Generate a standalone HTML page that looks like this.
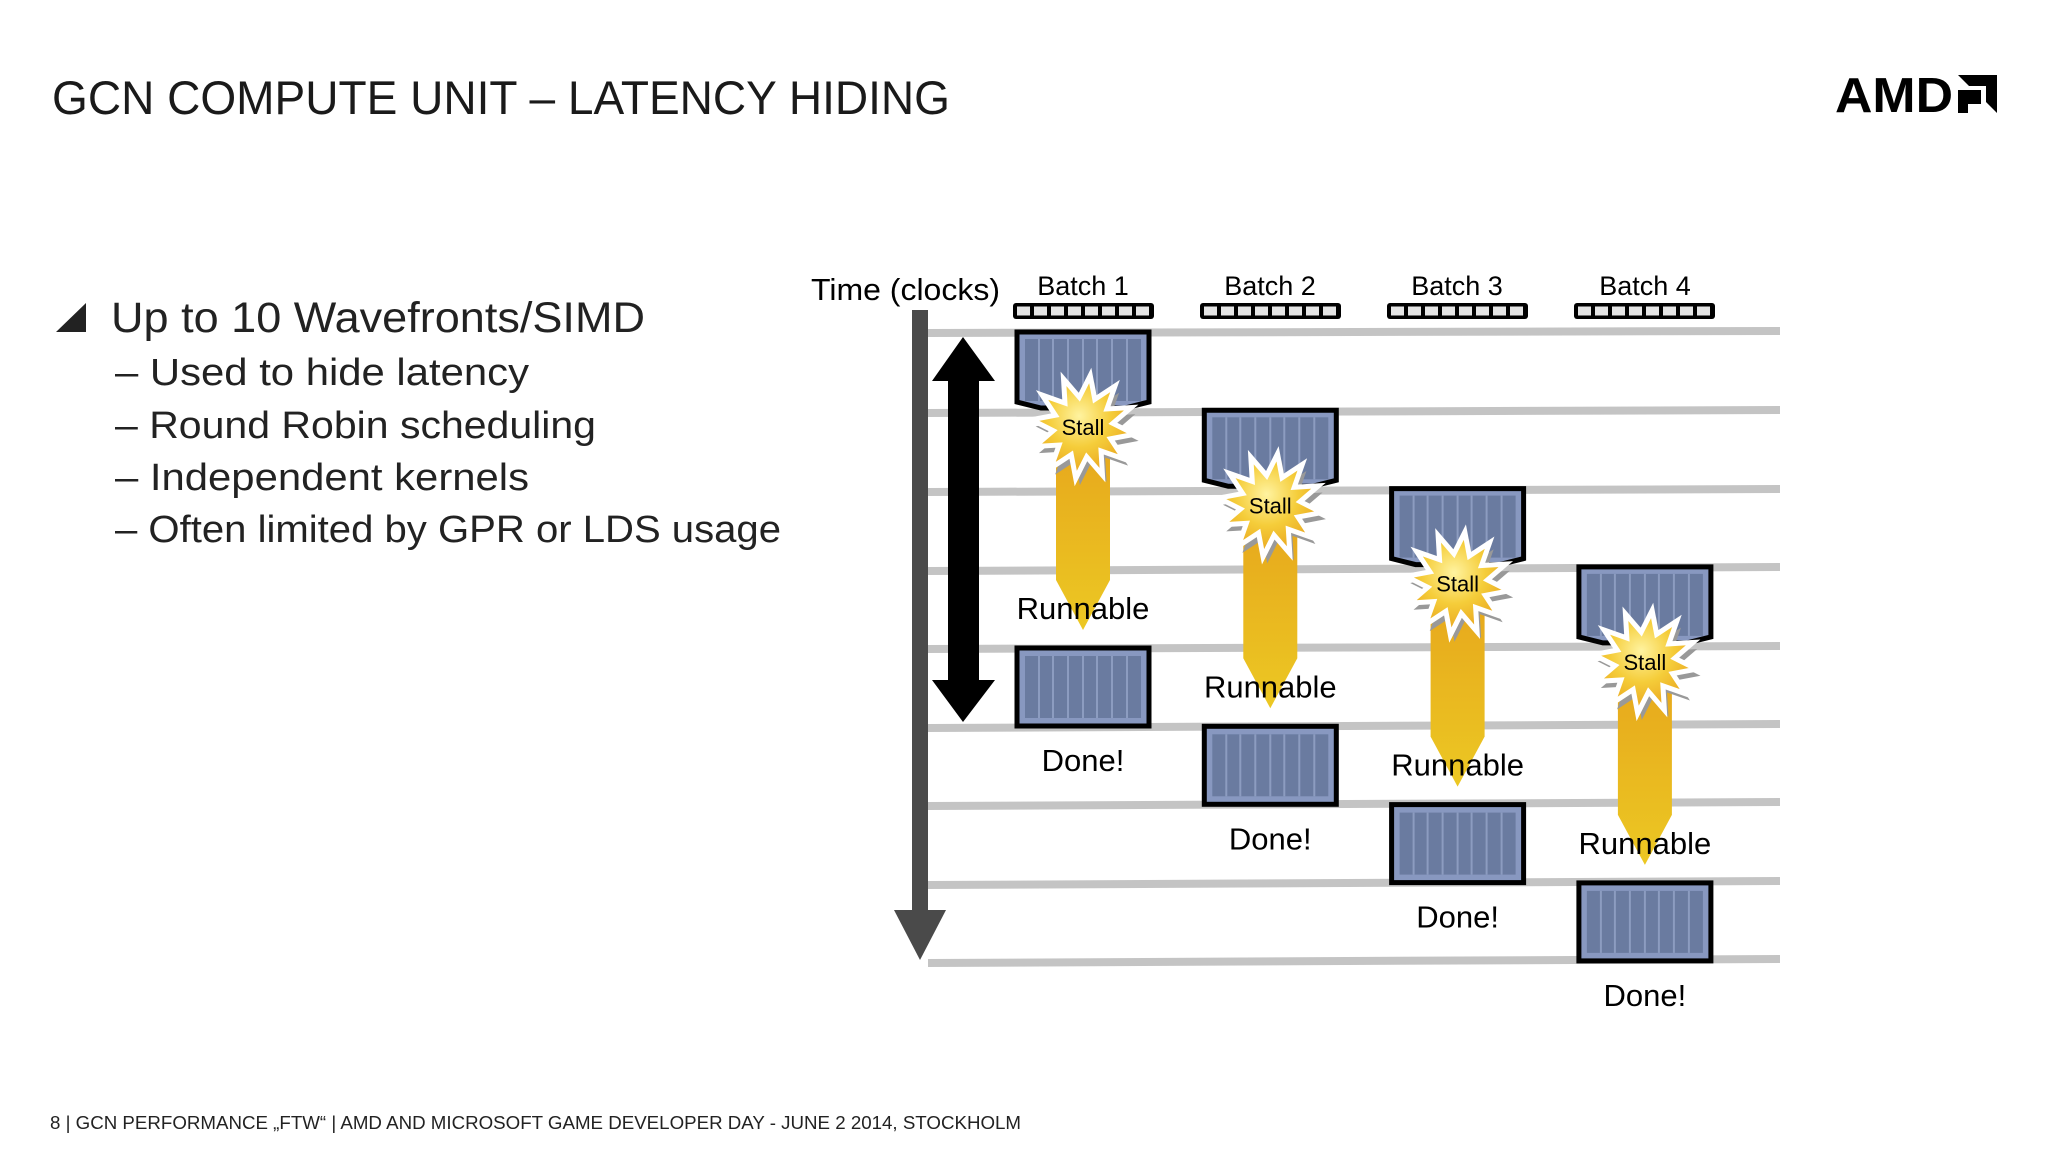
<!DOCTYPE html>
<html><head><meta charset="utf-8"><style>
html,body{margin:0;padding:0;background:#fff;}
svg{display:block}
</style></head><body>
<svg width="2048" height="1152" viewBox="0 0 2048 1152" xmlns="http://www.w3.org/2000/svg">
<defs>
<linearGradient id="yb" x1="0" y1="0" x2="0" y2="1">
<stop offset="0" stop-color="#e6a51c"/><stop offset="1" stop-color="#ecc823"/></linearGradient>
<radialGradient id="sg" cx="0.45" cy="0.4" r="0.6">
<stop offset="0" stop-color="#fff3a0"/><stop offset="0.5" stop-color="#f5cd3a"/><stop offset="1" stop-color="#e8a21c"/></radialGradient>
<g id="wave">
<polygon points="0,0 132,0 132,70 108,76 24,76 0,70" fill="#8898c0" stroke="#000" stroke-width="5"/>
<rect x="8" y="7" width="116" height="62" fill="#6a7ba0"/>
<g stroke="#8c9cc0" stroke-width="2">
<line x1="22" y1="7" x2="22" y2="69"/><line x1="36" y1="7" x2="36" y2="69"/><line x1="51" y1="7" x2="51" y2="69"/><line x1="66" y1="7" x2="66" y2="69"/><line x1="80" y1="7" x2="80" y2="69"/><line x1="95" y1="7" x2="95" y2="69"/><line x1="110" y1="7" x2="110" y2="69"/>
</g></g>
<g id="done">
<rect x="0" y="0" width="132" height="78" fill="#8898c0" stroke="#000" stroke-width="5"/>
<rect x="8" y="8" width="116" height="62" fill="#6a7ba0"/>
<g stroke="#8c9cc0" stroke-width="2">
<line x1="22" y1="8" x2="22" y2="70"/><line x1="36" y1="8" x2="36" y2="70"/><line x1="51" y1="8" x2="51" y2="70"/><line x1="66" y1="8" x2="66" y2="70"/><line x1="80" y1="8" x2="80" y2="70"/><line x1="95" y1="8" x2="95" y2="70"/><line x1="110" y1="8" x2="110" y2="70"/>
</g></g>
<polygon id="star" points="52,0 29,7.8 45,26 21.2,21.2 26,45 7.8,29 0,52 -7.8,29 -26,45 -21.2,21.2 -45,26 -29,7.8 -52,0 -29,-7.8 -45,-26 -21.2,-21.2 -26,-45 -7.8,-29 0,-52 7.8,-29 26,-45 21.2,-21.2 45,-26 29,-7.8"/>
<g id="chain">
<rect x="0" y="0" width="141" height="16" rx="3" fill="#000"/>
<g fill="#e4e4e4">
<rect x="4" y="3.5" width="13" height="9"/><rect x="21" y="3.5" width="13" height="9"/><rect x="38" y="3.5" width="13" height="9"/><rect x="55" y="3.5" width="13" height="9"/><rect x="72" y="3.5" width="13" height="9"/><rect x="89" y="3.5" width="13" height="9"/><rect x="106" y="3.5" width="13" height="9"/><rect x="123" y="3.5" width="13" height="9"/>
</g></g>
<g id="batch">
<use href="#wave" x="1017" y="332"/>
<polygon points="1056,427 1110,427 1110,580 1083,630 1056,580" fill="url(#yb)"/>
<g transform="translate(1083,427) rotate(8)">
<use href="#star" fill="#999" transform="translate(5,6)"/>
<use href="#star" fill="url(#sg)" stroke="#fff" stroke-width="5"/>
</g>
<text x="1083" y="435" font-size="22" text-anchor="middle" font-family="Liberation Sans, sans-serif">Stall</text>
<text x="1083" y="619" font-size="31" text-anchor="middle" font-family="Liberation Sans, sans-serif">Runnable</text>
<use href="#done" x="1017" y="648"/>
<text x="1083" y="771" font-size="31" text-anchor="middle" font-family="Liberation Sans, sans-serif">Done!</text>
</g>
</defs>

<text x="52" y="114" font-size="47" font-family="Liberation Sans, sans-serif" fill="#1a1a1a" textLength="898" lengthAdjust="spacingAndGlyphs">GCN COMPUTE UNIT – LATENCY HIDING</text>

<g fill="#000">
<text x="1835" y="112" font-size="49" font-weight="bold" font-family="Liberation Sans, sans-serif" textLength="118" lengthAdjust="spacingAndGlyphs">AMD</text>
<polygon points="1958,75 1997,75 1997,113 1986,102 1986,86 1969,86"/>
<polygon points="1958,90 1969,90 1981,90 1981,104 1968,104 1968,113 1958,113"/>
</g>

<polygon points="56,332 86,303 86,332" fill="#222"/>
<g font-family="Liberation Sans, sans-serif" fill="#222">
<text x="111" y="332" font-size="43" textLength="534" lengthAdjust="spacingAndGlyphs">Up to 10 Wavefronts/SIMD</text>
<text x="115" y="385" font-size="38" textLength="414" lengthAdjust="spacingAndGlyphs">– Used to hide latency</text>
<text x="115" y="438" font-size="38" textLength="481" lengthAdjust="spacingAndGlyphs">– Round Robin scheduling</text>
<text x="115" y="490" font-size="38" textLength="414" lengthAdjust="spacingAndGlyphs">– Independent kernels</text>
<text x="115" y="542" font-size="38" textLength="666" lengthAdjust="spacingAndGlyphs">– Often limited by GPR or LDS usage</text>
<text x="50" y="1129" font-size="18" textLength="971" lengthAdjust="spacingAndGlyphs">8  |  GCN PERFORMANCE „FTW“  |  AMD AND MICROSOFT GAME DEVELOPER DAY - JUNE 2 2014, STOCKHOLM</text>
</g>

<g stroke="#c4c4c4" stroke-width="8">
<line x1="928" y1="333" x2="1780" y2="331"/>
<line x1="928" y1="413" x2="1780" y2="410"/>
<line x1="928" y1="492" x2="1780" y2="489"/>
<line x1="928" y1="571" x2="1780" y2="567"/>
<line x1="928" y1="649" x2="1780" y2="646"/>
<line x1="928" y1="728" x2="1780" y2="724"/>
<line x1="928" y1="806" x2="1780" y2="802"/>
<line x1="928" y1="885" x2="1780" y2="881"/>
<line x1="928" y1="963" x2="1780" y2="959"/>
</g>

<rect x="912" y="310" width="16" height="610" fill="#4a4a4a"/>
<polygon points="894,910 946,910 920,960" fill="#4a4a4a"/>

<polygon points="963,337 995,381 979,381 979,680 995,680 963,722 932,680 948,680 948,381 932,381" fill="#000"/>

<text x="811" y="300" font-size="31" font-family="Liberation Sans, sans-serif" textLength="189" lengthAdjust="spacingAndGlyphs">Time (clocks)</text>

<g font-family="Liberation Sans, sans-serif" font-size="27" text-anchor="middle">
<text x="1083" y="295">Batch 1</text>
<text x="1270" y="295">Batch 2</text>
<text x="1457" y="295">Batch 3</text>
<text x="1645" y="295">Batch 4</text>
</g>
<use href="#chain" x="1013" y="303"/>
<use href="#chain" x="1200" y="303"/>
<use href="#chain" x="1387" y="303"/>
<use href="#chain" x="1574" y="303"/>

<use href="#batch"/>
<use href="#batch" transform="translate(187.3,78.3)"/>
<use href="#batch" transform="translate(374.6,156.6)"/>
<use href="#batch" transform="translate(561.9,234.9)"/>
</svg>
</body></html>
